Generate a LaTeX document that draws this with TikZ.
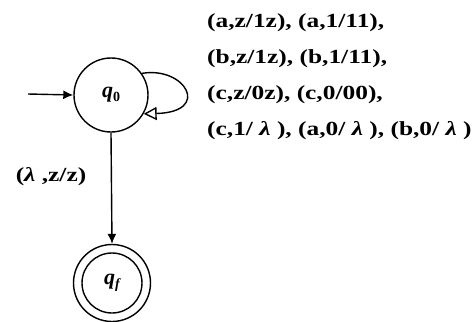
\documentclass[tikz,border=0pt]{standalone}
\usepackage{fontspec}
\setmainfont{Liberation Serif}
\usetikzlibrary{arrows.meta}
\newcommand{\wide}[1]{\scalebox{1.27}[1]{#1}}
\begin{document}
\begin{tikzpicture}[x=1pt,y=-1pt,
  state/.style={circle,draw,line width=1.4pt,minimum size=74pt,inner sep=0pt},
  lbl/.style={font=\fontsize{20}{24}\selectfont\bfseries,anchor=west,inner sep=0pt},
  edge/.style={line width=1.4pt}]
\useasboundingbox (0,0) rectangle (475,322);
\node[state] (q0) at (111,95) {\fontsize{22}{24}\selectfont\bfseries\itshape q\raisebox{-0.35ex}{\fontsize{14}{16}\selectfont\upshape 0}};
\node[state,minimum size=77pt] (qf) at (112,283) {};
\node[circle,draw,line width=1.4pt,minimum size=60pt,inner sep=0pt] (qfi) at (qf) {\fontsize{22}{24}\selectfont\bfseries\itshape q\raisebox{-0.35ex}{\fontsize{14}{16}\selectfont f}};
\coordinate (start) at (28,94);
\draw[edge,-{Latex[length=10pt,width=9pt]}] (start) -- (q0.west);
\draw[edge,-{Triangle[open,length=13pt,width=13pt]}] (q0.35) .. controls (185,66) and (212,112) .. (q0.-30);
\draw[edge,-{Latex[length=10pt,width=9pt]}] (q0.south) -- (qf.north);
\node[font=\fontsize{20}{24}\selectfont\bfseries] (lab) at (51,177) {\wide{(\textit{λ} ,z/z)}};
\node[lbl] (t1) at (207,23) {\wide{(a,z/1z), (a,1/11),}};
\node[lbl] (t2) at (207,59) {\wide{(b,z/1z), (b,1/11),}};
\node[lbl] (t3) at (207,95) {\wide{(c,z/0z), (c,0/00),}};
\node[lbl] (t4) at (207,131) {\wide{(c,1/ \textit{λ} ), (a,0/ \textit{λ} ), (b,0/ \textit{λ} )}};
\end{tikzpicture}
\end{document}
